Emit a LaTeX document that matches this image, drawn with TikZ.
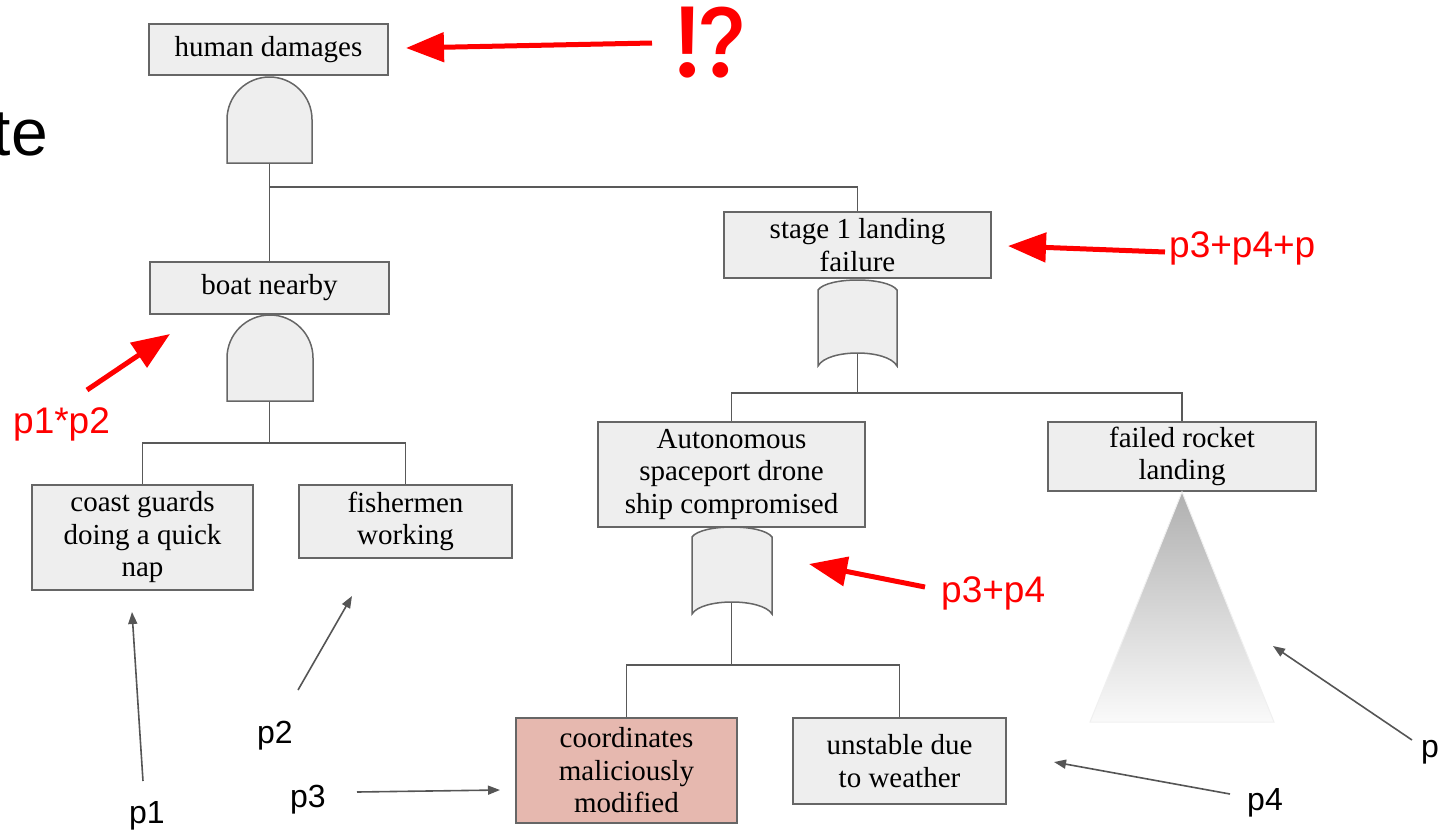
\documentclass[tikz,border=0pt]{standalone}
\usepackage{fontspec}
\setmainfont{Liberation Serif}
\newfontfamily\labelfont{Liberation Sans}
\newfontfamily\emojifont{Noto Emoji}
\usetikzlibrary{arrows.meta}

\definecolor{boxfill}{HTML}{EEEEEE}
\definecolor{boxline}{HTML}{666666}
\definecolor{wirecol}{HTML}{595959}
\definecolor{attackfill}{HTML}{E6B8AF}
\definecolor{hot}{HTML}{FF0000}
\definecolor{ptrcol}{HTML}{555555}
\definecolor{treetop}{HTML}{B0B0B0}
\definecolor{treebot}{HTML}{FAFAFA}
\definecolor{treeedge}{HTML}{F0F0F0}

% AND gate: centre x, dome top, bottom, half width
\newcommand\andgate[4]{%
  \path[gate] ({#1-#4},#3) -- ({#1-#4},{#2+#4})
    arc[start angle=180,end angle=0,radius=#4pt] -- ({#1+#4},#3) -- cycle;}
% OR gate: left, right, top crest, top corner, bottom corner, bottom crest
\newcommand\orgate[6]{%
  \path[gate] (#1,#4)
    .. controls ({#1+0.12*(#2-#1)},{#4-(#4-#3)*4/3}) and ({#2-0.12*(#2-#1)},{#4-(#4-#3)*4/3}) .. (#2,#4)
    -- (#2,#5)
    .. controls ({#2-0.12*(#2-#1)},{#5-(#5-#6)*4/3}) and ({#1+0.12*(#2-#1)},{#5-(#5-#6)*4/3}) .. (#1,#5)
    -- cycle;}

\begin{document}
\begin{tikzpicture}[x=1pt,y=-1pt,
  event/.style={draw=boxline, fill=boxfill, line width=1.5pt, align=center,
    inner sep=0pt, font=\fontsize{29}{32.5}\selectfont},
  gate/.style={draw=boxline, fill=boxfill, line width=1.5pt},
  wire/.style={draw=wirecol, line width=1.5pt},
  hint/.style={draw=hot, line width=5pt, -{Triangle[length=38pt,width=29pt]}},
  ptr/.style={draw=ptrcol, line width=1.6pt, -{Triangle[length=12pt,width=9pt]}},
  prob/.style={text=hot, inner sep=0pt, font=\labelfont\fontsize{37}{40}\selectfont},
  plabel/.style={inner sep=0pt, font=\labelfont\fontsize{32}{36}\selectfont},
]
\useasboundingbox (0,0) rectangle (1454,833);

% partial heading at the left edge
\node[inner sep=0pt, anchor=base east, font=\labelfont\fontsize{66}{70}\selectfont] (heading) at (48,155) {te};

% events
\node[event, minimum width=239pt, minimum height=51pt] (hd) at (268.5,49.5) {human damages};
\node[event, minimum width=267pt, minimum height=66pt] (s1) at (857.5,245) {stage 1 landing\\failure};
\node[event, minimum width=239pt, minimum height=52pt] (boat) at (269.5,288) {boat nearby};
\node[event, minimum width=267pt, minimum height=105pt] (auto) at (731.5,474.5) {Autonomous\\spaceport drone\\ship compromised};
\node[event, minimum width=268pt, minimum height=69pt] (rocket) at (1182,456.5) {failed rocket\\landing};
\node[event, minimum width=221pt, minimum height=105pt] (coast) at (142.5,537.5) {coast guards\\doing a quick\\nap};
\node[event, minimum width=213pt, minimum height=73pt] (fish) at (405.5,521.5) {fishermen\\working};
\node[event, fill=attackfill, minimum width=221pt, minimum height=105pt] (coords) at (626.5,770.5) {coordinates\\maliciously\\modified};
\node[event, minimum width=213pt, minimum height=86pt] (unstable) at (899.5,761) {unstable due\\to weather};

% gate outputs and junctions
\coordinate (g1out) at (269.5,163);
\coordinate (j1) at (269.5,187);
\coordinate (g2out) at (857.5,353);
\coordinate (j2) at (857.5,393);
\coordinate (g3out) at (731.5,602);
\coordinate (j3) at (731.5,665);
\coordinate (g4out) at (269.5,401);
\coordinate (j4) at (269.5,443);

% wiring
\draw[wire] (g1out) -- (boat.north);
\draw[wire] (j1) -| (s1.north);
\draw[wire] (g2out) -- (j2);
\draw[wire] (j2) -| (auto.north);
\draw[wire] (j2) -| (rocket.north);
\draw[wire] (g3out) -- (j3);
\draw[wire] (j3) -| (coords.north);
\draw[wire] (j3) -| (unstable.north);
\draw[wire] (g4out) -- (j4);
\draw[wire] (j4) -| (coast.north);
\draw[wire] (j4) -| (fish.north);

% gates
\andgate{269.5}{77}{163}{42.5}
\andgate{270}{315}{401}{43}
\orgate{818}{897}{280}{290}{366}{353}
\orgate{692}{772}{527}{537}{614}{602}

% undeveloped subtree
\shade[top color=treetop, bottom color=treebot, draw=treeedge, line width=1pt]
  (rocket.south) -- (1274,722) -- (1090,722) -- cycle;

% probability annotations
\node[text=hot, inner sep=0pt, font=\emojifont\fontsize{70}{70}\selectfont] (bang) at (711,43) {⁉};
\node[prob, anchor=base west] (ps1) at (1169,257) {p3+p4+p};
\node[prob, anchor=base west] (pauto) at (941,602) {p3+p4};
\node[prob, anchor=base west] (pboat) at (13,433) {p1*p2};

\coordinate (bangtail) at (652,43);
\coordinate (bangtip) at (406,48);
\coordinate (s1tail) at (1165,252);
\coordinate (s1tip) at (1008,246);
\coordinate (autotail) at (925,587);
\coordinate (autotip) at (809,564);
\coordinate (boattail) at (87,390);
\coordinate (boattip) at (170,334);

\draw[hint] (bangtail) -- (bangtip);
\draw[hint] (s1tail) -- (s1tip);
\draw[hint] (autotail) -- (autotip);
\draw[hint] (boattail) -- (boattip);

% basic event probabilities
\node[plabel, anchor=base west] (p1) at (129,823) {p1};
\node[plabel, anchor=base west] (p2) at (257,743) {p2};
\node[plabel, anchor=base west] (p3) at (290,807) {p3};
\node[plabel, anchor=base west] (p4) at (1247,810) {p4};
\node[plabel, anchor=base west] (p) at (1421,757) {p};

\coordinate (p1tail) at (143,781);
\coordinate (p1tip) at (132,612);
\coordinate (p2tail) at (298,690);
\coordinate (p2tip) at (352,596);
\coordinate (p3tail) at (357,792);
\coordinate (p3tip) at (500,790);
\coordinate (p4tail) at (1230,794);
\coordinate (p4tip) at (1054,762);
\coordinate (ptail) at (1412,740);
\coordinate (ptip) at (1273,646);

\draw[ptr] (p1tail) -- (p1tip);
\draw[ptr] (p2tail) -- (p2tip);
\draw[ptr] (p3tail) -- (p3tip);
\draw[ptr] (p4tail) -- (p4tip);
\draw[ptr] (ptail) -- (ptip);
\end{tikzpicture}
\end{document}
